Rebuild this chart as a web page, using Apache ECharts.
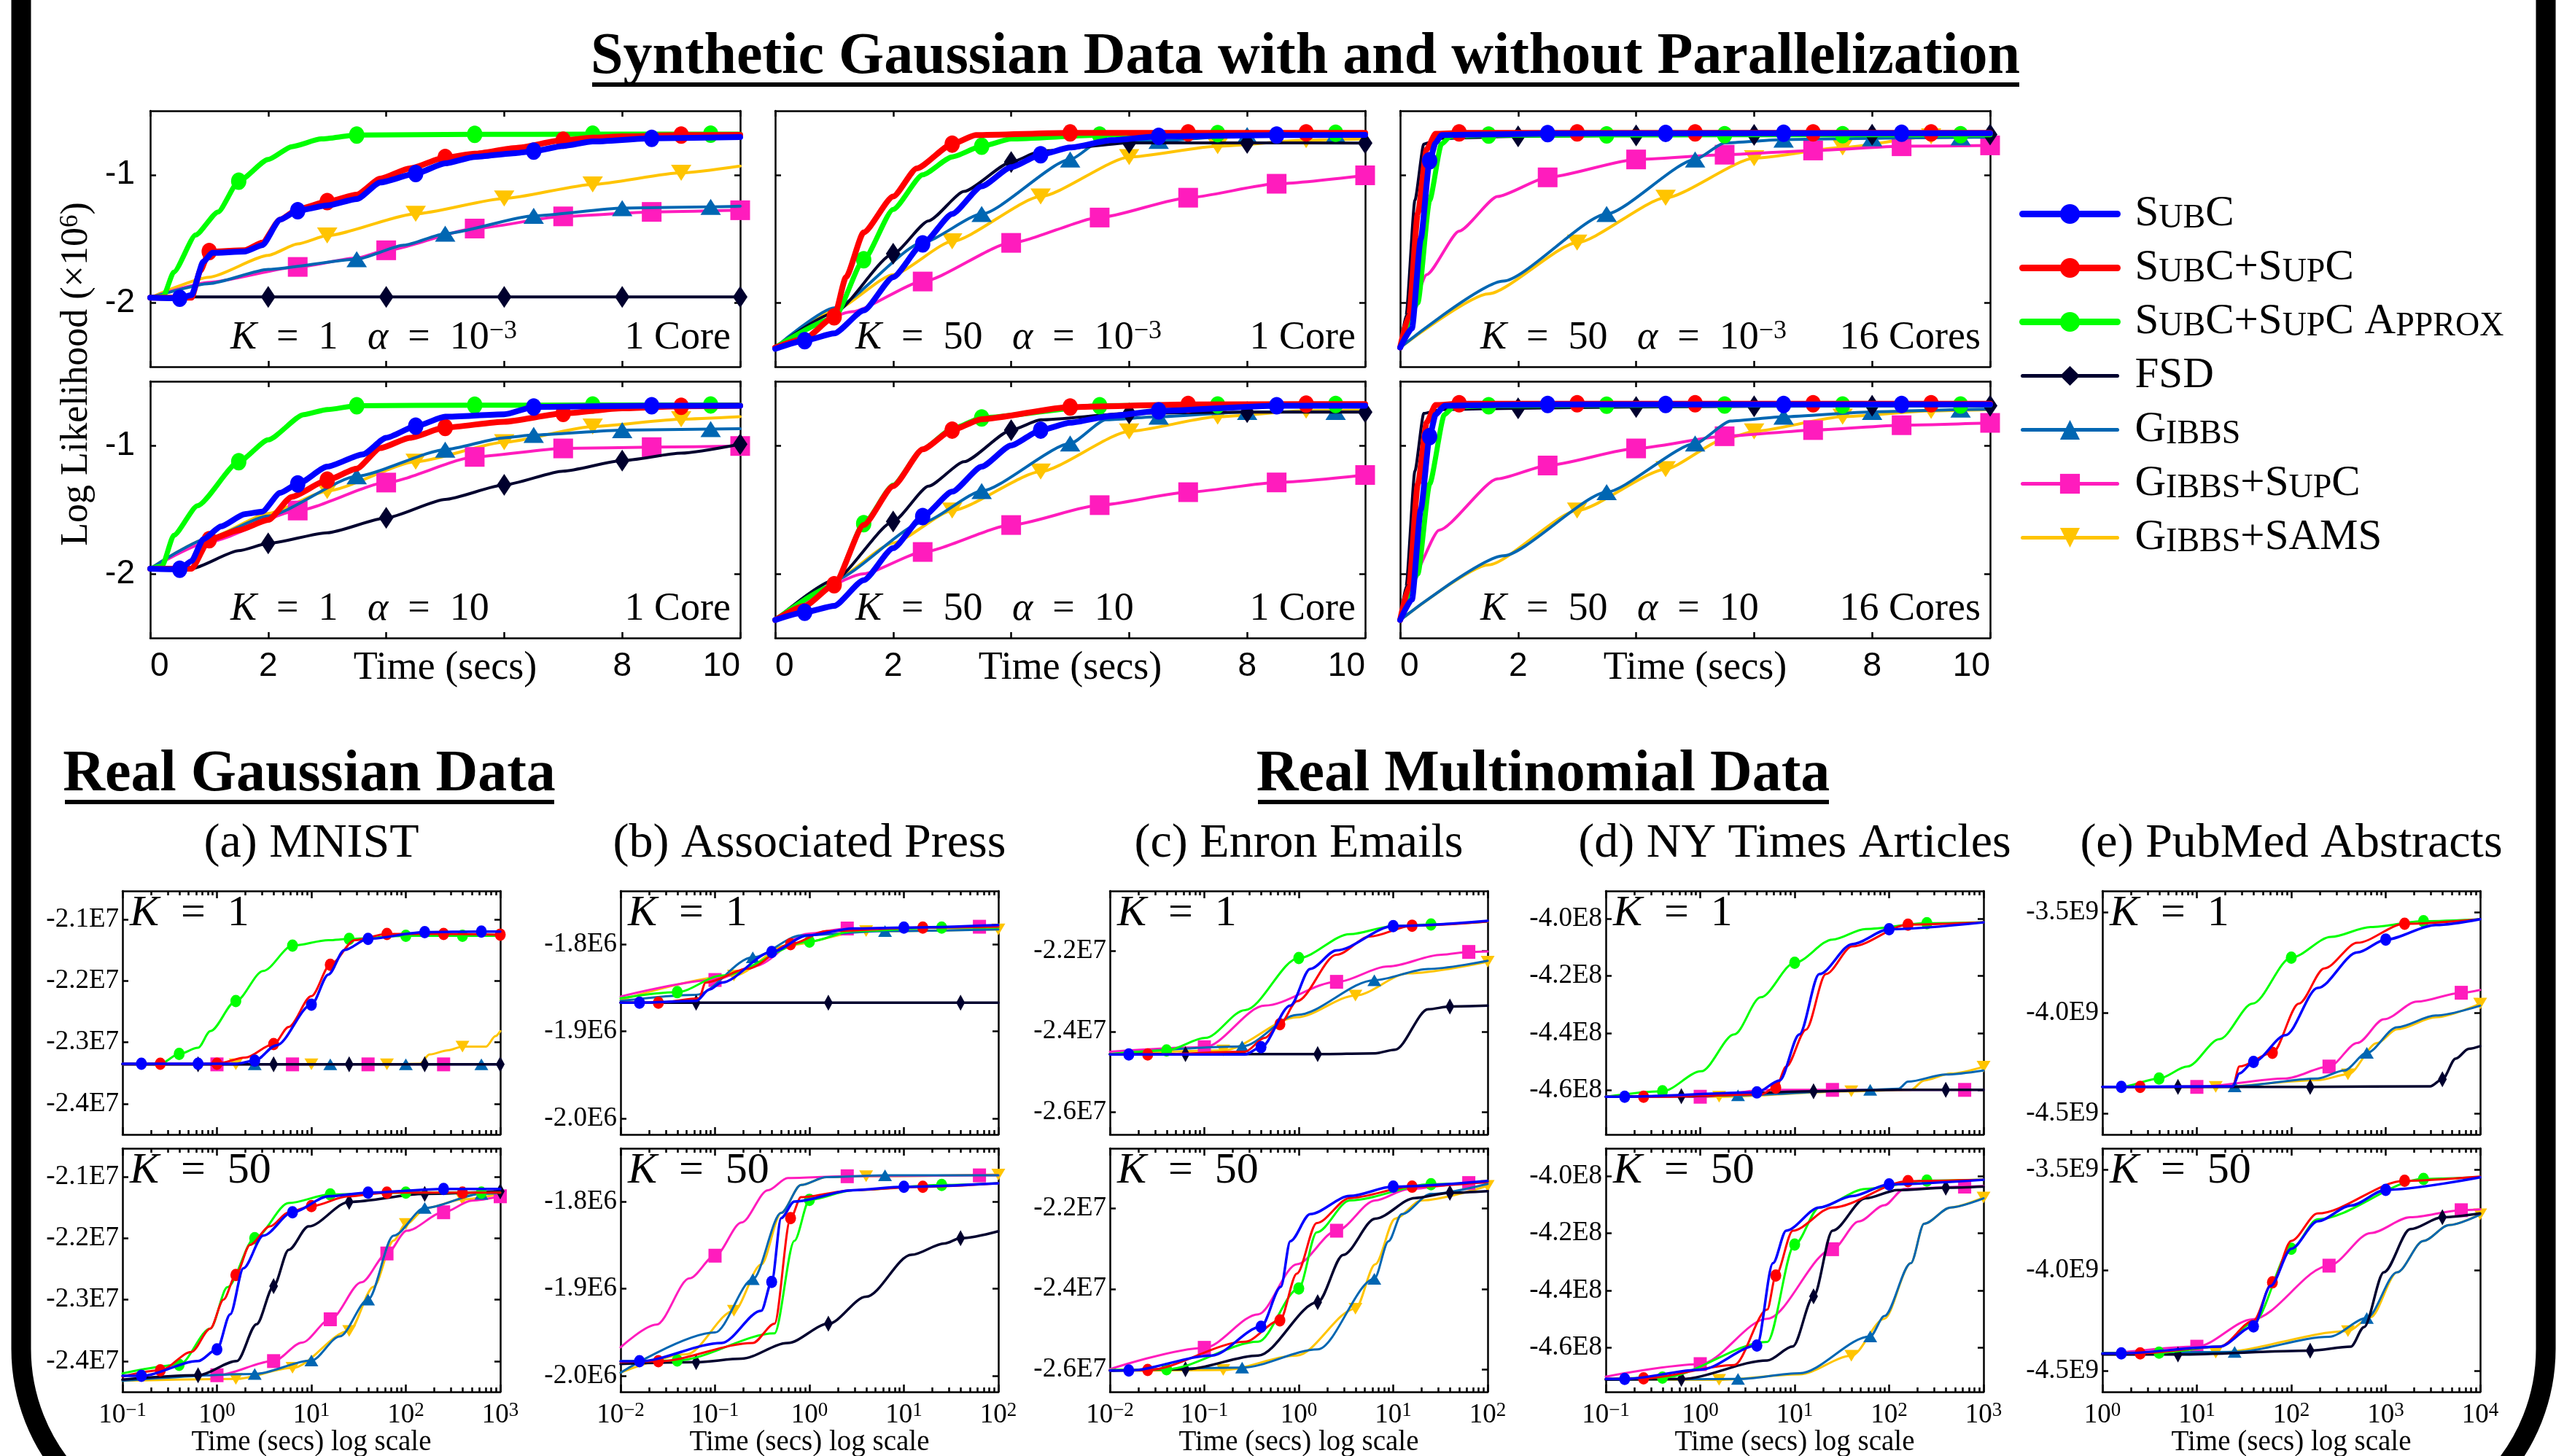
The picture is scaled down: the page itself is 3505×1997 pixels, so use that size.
<!DOCTYPE html>
<html>
<head>
<meta charset="UTF-8">
<title>Log likelihood vs. time</title>
<script src="https://cdn.jsdelivr.net/npm/echarts@6.0.0/dist/echarts.min.js"></script>
<style>
  html, body { margin: 0; padding: 0; background: #fff; }
  #main { width: 3505px; height: 1997px; }
</style>
</head>
<body>
<div id="main"></div>
<script>
var SERIF = "'Liberation Serif', 'Times New Roman', serif";
var SANS = "'Liberation Sans', Arial, sans-serif";

// methods, in legend order
var keys = ['subc', 'supc', 'approx', 'fsd', 'gibbs', 'gsupc', 'sams'];
var names = ['SubC', 'SubC+SupC', 'SubC+SupC Approx', 'FSD', 'Gibbs', 'Gibbs+SupC', 'Gibbs+SAMS'];

// ---------- synthetic data (top): x = seconds, y = log likelihood / 1e6 ----------
var synK1Lo = {
  subc: [[0,-1.96],[0.5,-1.965],[0.7,-1.94],[0.9,-1.68],[1.05,-1.61],[1.6,-1.6],[1.9,-1.55],[2.2,-1.35],[2.5,-1.28],[3,-1.24],[3.5,-1.19],[3.9,-1.06],[4.5,-0.99],[5,-0.91],[5.5,-0.86],[6.2,-0.83],[6.5,-0.815],[7,-0.775],[7.5,-0.74],[8.5,-0.715],[10,-0.705]],
  supc: [[0,-1.96],[0.7,-1.96],[0.85,-1.75],[1,-1.6],[1.6,-1.59],[1.9,-1.53],[2.2,-1.35],[2.5,-1.27],[3,-1.21],[3.5,-1.155],[3.9,-1.03],[4.4,-0.95],[5,-0.865],[5.5,-0.835],[6.2,-0.79],[7,-0.73],[7.5,-0.71],[8,-0.7],[9,-0.69],[10,-0.688]],
  approx: [[0,-1.96],[0.22,-1.95],[0.4,-1.76],[0.77,-1.47],[1.15,-1.29],[1.5,-1.05],[2,-0.88],[2.4,-0.78],[2.9,-0.72],[3.5,-0.69],[5.5,-0.684],[7.5,-0.683],[9.5,-0.682],[10,-0.682]],
  fsd: [[0,-1.955],[2,-1.955],[4,-1.955],[6,-1.955],[8,-1.955],[10,-1.955]],
  gibbs: [[0,-1.96],[1,-1.85],[2,-1.74],[3.5,-1.66],[4.3,-1.55],[5,-1.46],[6.5,-1.32],[8,-1.26],[9.5,-1.25],[10,-1.245]],
  gsupc: [[0,-1.96],[1,-1.84],[2.5,-1.72],[3.5,-1.65],[4,-1.59],[5.5,-1.42],[7,-1.325],[8.5,-1.29],[10,-1.277]],
  sams: [[0,-1.96],[1,-1.8],[2,-1.63],[2.5,-1.54],[3,-1.475],[4.5,-1.305],[6,-1.185],[7.5,-1.075],[9,-0.985],[10,-0.932]]
};
var synK1Hi = {
  subc: [[0,-1.96],[0.5,-1.965],[0.7,-1.9],[0.9,-1.73],[1.2,-1.63],[1.6,-1.535],[1.9,-1.515],[2.2,-1.37],[2.5,-1.3],[3,-1.165],[3.6,-1.07],[4,-0.94],[4.5,-0.85],[5,-0.776],[6,-0.757],[6.5,-0.7],[8.5,-0.69],[10,-0.69]],
  supc: [[0,-1.96],[0.7,-1.96],[1,-1.734],[1.5,-1.66],[2,-1.58],[2.4,-1.4],[3,-1.27],[3.5,-1.18],[3.9,-1.02],[4.4,-0.94],[5,-0.86],[6,-0.815],[7,-0.75],[8,-0.71],[9,-0.695],[10,-0.69]],
  approx: [[0,-1.96],[0.2,-1.94],[0.4,-1.7],[0.8,-1.47],[1.5,-1.127],[2,-0.956],[2.6,-0.76],[3,-0.72],[3.5,-0.69],[5.5,-0.686],[7.5,-0.685],[9.5,-0.684],[10,-0.684]],
  fsd: [[0,-1.96],[0.7,-1.96],[1.5,-1.82],[2,-1.763],[3,-1.68],[4,-1.564],[5,-1.42],[6,-1.307],[7,-1.2],[8,-1.118],[9,-1.06],[10,-0.99]],
  gibbs: [[0,-1.96],[1,-1.72],[2,-1.55],[3.5,-1.24],[5,-1.032],[6,-0.94],[6.5,-0.918],[8,-0.88],[9.5,-0.872],[10,-0.87]],
  gsupc: [[0,-1.96],[1,-1.75],[2.5,-1.507],[4,-1.289],[5.5,-1.089],[7,-1.023],[8.5,-1.013],[10,-1.004]],
  sams: [[0,-1.96],[1,-1.72],[2,-1.53],[3,-1.355],[4.5,-1.127],[6,-0.975],[7.5,-0.852],[9,-0.795],[10,-0.776]]
};
var synK50Lo = {
  subc: [[0,-2.36],[0.5,-2.296],[1,-2.24],[1.5,-2.06],[2,-1.8],[2.5,-1.54],[3,-1.306],[3.5,-1.09],[4,-0.94],[4.5,-0.843],[5,-0.787],[5.7,-0.73],[6.5,-0.7],[8.5,-0.69],[10,-0.688]],
  supc: [[0,-2.35],[0.5,-2.28],[1,-2.11],[1.2,-1.8],[1.5,-1.45],[2,-1.17],[2.4,-0.95],[3,-0.76],[3.4,-0.69],[5,-0.673],[7,-0.672],[9,-0.672],[10,-0.672]],
  approx: [[0,-2.35],[1,-2.12],[1.5,-1.664],[2,-1.27],[2.5,-1.0],[3,-0.86],[3.5,-0.777],[4,-0.72],[5.5,-0.69],[7.5,-0.678],[9.5,-0.675],[10,-0.675]],
  fsd: [[0,-2.35],[1,-2.08],[2,-1.617],[2.6,-1.36],[3.2,-1.13],[4,-0.9],[4.5,-0.815],[6,-0.75],[8,-0.75],[10,-0.752]],
  gibbs: [[0,-2.35],[1,-2.04],[2.5,-1.53],[3.5,-1.306],[5,-0.881],[5.5,-0.74],[6.5,-0.735],[8,-0.69],[9.5,-0.688],[10,-0.688]],
  gsupc: [[0,-2.35],[1.3,-2.07],[2.5,-1.834],[4,-1.532],[5.5,-1.334],[7,-1.179],[8.5,-1.07],[10,-1.004]],
  sams: [[0,-2.35],[1,-2.06],[2,-1.78],[3,-1.52],[4.5,-1.17],[6,-0.862],[7.5,-0.777],[9,-0.73],[10,-0.72]]
};
var synK50Hi = {
  subc: [[0,-2.36],[0.5,-2.3],[1,-2.25],[1.5,-2.05],[2,-1.8],[2.5,-1.554],[3,-1.36],[3.5,-1.165],[4,-1.0],[4.5,-0.88],[5,-0.823],[5.7,-0.77],[6.5,-0.73],[8.5,-0.69],[10,-0.69]],
  supc: [[0,-2.36],[0.5,-2.25],[1,-2.085],[1.5,-1.62],[2,-1.317],[2.5,-1.03],[3,-0.88],[3.5,-0.795],[5,-0.7],[7,-0.68],[9,-0.678],[10,-0.678]],
  approx: [[0,-2.36],[1,-2.09],[1.5,-1.61],[2,-1.31],[2.5,-1.03],[3,-0.87],[3.5,-0.785],[5.5,-0.69],[7.5,-0.685],[9.5,-0.68],[10,-0.68]],
  fsd: [[0,-2.36],[1,-2.05],[2,-1.592],[2.6,-1.317],[3.2,-1.127],[4,-0.88],[4.5,-0.8],[6,-0.75],[8,-0.74],[10,-0.74]],
  gibbs: [[0,-2.36],[1,-2.05],[2.5,-1.6],[3.5,-1.355],[5,-0.985],[5.6,-0.8],[6.5,-0.776],[8,-0.738],[9.5,-0.738],[10,-0.738]],
  gsupc: [[0,-2.36],[1.5,-2.0],[2.5,-1.83],[4,-1.62],[5.5,-1.465],[7,-1.364],[8.5,-1.288],[10,-1.23]],
  sams: [[0,-2.36],[1,-2.05],[2,-1.76],[3,-1.507],[4.5,-1.203],[6,-0.89],[7.5,-0.776],[9,-0.729],[10,-0.725]]
};
var par16Lo = {
  subc: [[0,-2.35],[0.2,-2.2],[0.35,-1.5],[0.5,-0.89],[0.6,-0.75],[0.7,-0.69],[2.5,-0.678],[4.5,-0.676],[6.5,-0.675],[8.5,-0.675],[10,-0.675]],
  supc: [[0,-2.35],[0.15,-2.1],[0.3,-1.3],[0.45,-0.8],[0.6,-0.68],[1,-0.672],[3,-0.672],[5,-0.672],[7,-0.672],[9,-0.672],[10,-0.672]],
  approx: [[0,-2.35],[0.3,-2.0],[0.5,-1.2],[0.7,-0.76],[0.85,-0.7],[1.5,-0.69],[3.5,-0.688],[5.5,-0.687],[7.5,-0.686],[9.5,-0.686],[10,-0.686]],
  fsd: [[0,-2.35],[0.1,-2.1],[0.25,-1.2],[0.4,-0.76],[0.7,-0.715],[2,-0.7],[4,-0.692],[6,-0.688],[8,-0.686],[10,-0.685]],
  gibbs: [[0,-2.35],[1.75,-1.83],[3.5,-1.306],[5,-0.88],[5.5,-0.75],[6.5,-0.725],[8,-0.715],[9.5,-0.708],[10,-0.706]],
  gsupc: [[0,-2.35],[0.16,-2.08],[0.45,-1.78],[1,-1.44],[1.65,-1.17],[2.5,-1.02],[4,-0.88],[5.5,-0.843],[7,-0.81],[8.5,-0.777],[10,-0.77]],
  sams: [[0,-2.35],[1.5,-1.93],[3,-1.53],[4.5,-1.18],[6,-0.87],[7.5,-0.787],[9,-0.7],[10,-0.695]]
};
var par16Hi = {
  subc: [[0,-2.36],[0.2,-2.2],[0.35,-1.5],[0.5,-0.93],[0.6,-0.76],[0.75,-0.69],[2.5,-0.68],[4.5,-0.68],[6.5,-0.68],[8.5,-0.68],[10,-0.68]],
  supc: [[0,-2.36],[0.15,-2.1],[0.3,-1.3],[0.45,-0.82],[0.6,-0.685],[1,-0.675],[3,-0.675],[5,-0.675],[7,-0.675],[9,-0.675],[10,-0.675]],
  approx: [[0,-2.36],[0.3,-2.0],[0.5,-1.3],[0.75,-0.76],[0.9,-0.7],[1.5,-0.69],[3.5,-0.686],[5.5,-0.685],[7.5,-0.685],[9.5,-0.685],[10,-0.685]],
  fsd: [[0,-2.36],[0.1,-2.1],[0.25,-1.2],[0.4,-0.75],[0.7,-0.72],[2,-0.71],[4,-0.7],[6,-0.695],[8,-0.69],[10,-0.69]],
  gibbs: [[0,-2.36],[1.75,-1.86],[3.5,-1.364],[5,-0.985],[5.6,-0.81],[6.5,-0.776],[8,-0.738],[9.5,-0.72],[10,-0.718]],
  gsupc: [[0,-2.36],[0.16,-2.076],[0.66,-1.66],[1.65,-1.26],[2.5,-1.156],[4,-1.023],[5.5,-0.928],[7,-0.88],[8.5,-0.842],[10,-0.824]],
  sams: [[0,-2.36],[1.5,-1.93],[3,-1.507],[4.5,-1.184],[5.5,-0.95],[6,-0.89],[7.5,-0.776],[9,-0.73],[10,-0.72]]
};

// ---------- real data (bottom): x = log10(seconds), y = log likelihood / 10^exp ----------
var mnistK1 = {
  subc: [[-1,-2.335],[-0.8,-2.335],[-0.2,-2.335],[0.2,-2.335],[0.4,-2.33],[0.63,-2.305],[1.0,-2.239],[1.18,-2.19],[1.35,-2.15],[1.6,-2.132],[2.2,-2.121],[2.8,-2.12],[3,-2.12]],
  supc: [[-1,-2.335],[-0.6,-2.335],[0,-2.335],[0.3,-2.325],[0.6,-2.303],[0.76,-2.275],[1.0,-2.225],[1.2,-2.174],[1.46,-2.134],[1.8,-2.124],[2.4,-2.124],[3,-2.125]],
  approx: [[-1,-2.335],[-0.6,-2.335],[-0.4,-2.319],[-0.2,-2.309],[-0.07,-2.282],[0.2,-2.233],[0.49,-2.184],[0.8,-2.143],[1.18,-2.134],[1.4,-2.132],[2.0,-2.127],[2.6,-2.127],[3,-2.127]],
  fsd: [[-1,-2.336],[-0.2,-2.336],[0.6,-2.336],[1.4,-2.336],[2.2,-2.336],[3,-2.336]],
  gibbs: [[-1,-2.336],[0.4,-2.336],[1.2,-2.336],[2.0,-2.336],[2.8,-2.336],[3,-2.336]],
  gsupc: [[-1,-2.336],[0,-2.336],[0.8,-2.336],[1.6,-2.336],[2.4,-2.336],[3,-2.336]],
  sams: [[-1,-2.336],[0.2,-2.336],[1.0,-2.336],[1.8,-2.336],[2.15,-2.335],[2.25,-2.32],[2.45,-2.313],[2.6,-2.307],[2.85,-2.307],[2.95,-2.29],[3,-2.282]]
};
var mnistK50 = {
  subc: [[-1,-2.424],[-0.8,-2.424],[-0.2,-2.4],[0,-2.381],[0.14,-2.324],[0.28,-2.249],[0.49,-2.196],[0.8,-2.158],[1.18,-2.132],[1.6,-2.126],[2.4,-2.12],[3,-2.12]],
  supc: [[-1,-2.425],[-0.6,-2.415],[-0.27,-2.385],[-0.07,-2.347],[0.07,-2.3],[0.2,-2.26],[0.35,-2.211],[0.56,-2.181],[0.76,-2.158],[1.0,-2.148],[1.39,-2.132],[1.8,-2.126],[2.6,-2.126],[3,-2.126]],
  approx: [[-1,-2.42],[-0.4,-2.406],[-0.07,-2.347],[0.11,-2.28],[0.4,-2.2],[0.76,-2.143],[1.2,-2.129],[2.0,-2.126],[2.8,-2.126],[3,-2.126]],
  fsd: [[-1,-2.43],[-0.2,-2.423],[0.21,-2.4],[0.42,-2.34],[0.6,-2.278],[0.76,-2.219],[0.97,-2.181],[1.4,-2.141],[2.2,-2.128],[3,-2.124]],
  gibbs: [[-1,-2.432],[0.4,-2.421],[1.0,-2.399],[1.3,-2.36],[1.6,-2.3],[1.87,-2.196],[2.2,-2.151],[2.8,-2.128],[3,-2.127]],
  gsupc: [[-1,-2.43],[0,-2.423],[0.6,-2.4],[0.9,-2.37],[1.2,-2.332],[1.53,-2.272],[1.8,-2.225],[2.01,-2.188],[2.4,-2.158],[2.7,-2.139],[3,-2.132]],
  sams: [[-1,-2.432],[0.2,-2.429],[0.8,-2.411],[1.4,-2.351],[1.66,-2.279],[1.87,-2.204],[2.0,-2.177],[2.22,-2.151],[2.6,-2.137],[3,-2.128]]
};
var apK1 = {
  subc: [[-2,-1.867],[-1.8,-1.867],[-1.2,-1.865],[-1.06,-1.852],[-0.93,-1.844],[-0.4,-1.809],[-0.02,-1.79],[0.46,-1.782],[1.0,-1.781],[2,-1.778]],
  supc: [[-2,-1.867],[-1.6,-1.867],[-1.17,-1.862],[-1.1,-1.844],[-0.65,-1.828],[-0.2,-1.8],[0.18,-1.785],[1.2,-1.781],[2,-1.78]],
  approx: [[-2,-1.862],[-1.4,-1.855],[-0.93,-1.836],[0,-1.797],[0.46,-1.785],[1.4,-1.781],[2,-1.781]],
  fsd: [[-2,-1.867],[-1.2,-1.867],[0.2,-1.867],[1.6,-1.867],[2,-1.867]],
  gibbs: [[-2,-1.865],[-1.2,-1.858],[-0.6,-1.815],[-0.09,-1.79],[0.8,-1.785],[2,-1.783]],
  gsupc: [[-2,-1.86],[-1.0,-1.841],[-0.58,-1.825],[-0.02,-1.788],[0.4,-1.782],[1.8,-1.78],[2,-1.78]],
  sams: [[-2,-1.864],[-0.8,-1.836],[-0.23,-1.801],[0.6,-1.785],[2,-1.783]]
};
var apK50 = {
  subc: [[-2,-1.983],[-1.8,-1.983],[-0.93,-1.962],[-0.51,-1.925],[-0.4,-1.892],[-0.3,-1.819],[-0.16,-1.8],[0.46,-1.787],[1.0,-1.783],[2,-1.779]],
  supc: [[-2,-1.984],[-1.6,-1.983],[-0.6,-1.962],[-0.37,-1.94],[-0.2,-1.819],[-0.09,-1.795],[0.46,-1.787],[1.2,-1.783],[2,-1.779]],
  approx: [[-2,-1.983],[-1.4,-1.982],[-0.37,-1.951],[-0.16,-1.845],[0,-1.798],[0.46,-1.787],[1.4,-1.781],[2,-1.779]],
  fsd: [[-2,-1.986],[-1.2,-1.984],[-0.72,-1.98],[-0.23,-1.962],[0.2,-1.94],[0.6,-1.909],[1.08,-1.861],[1.43,-1.848],[1.6,-1.842],[2,-1.834]],
  gibbs: [[-2,-1.996],[-1.0,-1.95],[-0.6,-1.889],[-0.3,-1.813],[-0.09,-1.781],[0.18,-1.772],[0.8,-1.77],[2,-1.77]],
  gsupc: [[-2,-1.967],[-1.62,-1.941],[-1.27,-1.888],[-1.0,-1.862],[-0.72,-1.824],[-0.44,-1.787],[-0.23,-1.773],[0.4,-1.771],[1.8,-1.77],[2,-1.77]],
  sams: [[-2,-1.996],[-1.3,-1.975],[-0.8,-1.925],[-0.51,-1.872],[-0.3,-1.813],[-0.09,-1.781],[0.18,-1.772],[0.6,-1.771],[2,-1.769]]
};
var enronK1 = {
  subc: [[-2,-2.457],[-1.8,-2.457],[-0.57,-2.457],[-0.4,-2.439],[-0.09,-2.336],[0.12,-2.245],[0.4,-2.199],[1.0,-2.139],[2,-2.126]],
  supc: [[-2,-2.457],[-1.6,-2.457],[-0.57,-2.45],[-0.36,-2.416],[-0.2,-2.382],[-0.02,-2.325],[0.4,-2.21],[0.75,-2.165],[1.2,-2.138],[2,-2.128]],
  approx: [[-2,-2.456],[-1.4,-2.447],[-0.99,-2.416],[-0.57,-2.347],[0,-2.218],[0.54,-2.159],[1.0,-2.139],[1.4,-2.135],[2,-2.128]],
  fsd: [[-2,-2.456],[-1.2,-2.456],[0.2,-2.456],[0.81,-2.454],[1.02,-2.445],[1.37,-2.345],[1.6,-2.338],[2,-2.336]],
  gibbs: [[-2,-2.456],[-0.6,-2.437],[-0.02,-2.359],[0.8,-2.273],[1.37,-2.245],[2,-2.225]],
  gsupc: [[-2,-2.45],[-1.0,-2.439],[-0.36,-2.336],[0.4,-2.277],[0.95,-2.239],[1.51,-2.21],[1.8,-2.203],[2,-2.202]],
  sams: [[-2,-2.456],[-0.8,-2.447],[-0.02,-2.365],[0.6,-2.311],[1.16,-2.256],[2,-2.227]]
};
var enronK50 = {
  subc: [[-2,-2.602],[-1.8,-2.602],[-0.92,-2.565],[-0.4,-2.494],[-0.19,-2.395],[-0.09,-2.282],[0.12,-2.215],[0.54,-2.17],[1.0,-2.147],[2,-2.133]],
  supc: [[-2,-2.602],[-1.6,-2.601],[-0.57,-2.531],[-0.2,-2.478],[-0.02,-2.362],[0.19,-2.237],[0.54,-2.175],[1.2,-2.147],[2,-2.135]],
  approx: [[-2,-2.601],[-1.4,-2.599],[-0.43,-2.531],[0,-2.399],[0.19,-2.26],[0.54,-2.181],[1.4,-2.141],[2,-2.135]],
  fsd: [[-2,-2.602],[-1.2,-2.599],[-0.43,-2.565],[0.2,-2.433],[0.47,-2.316],[0.81,-2.226],[1.23,-2.175],[1.6,-2.162],[2,-2.158]],
  gibbs: [[-2,-2.603],[-0.6,-2.595],[0.2,-2.55],[0.8,-2.375],[0.95,-2.282],[1.09,-2.215],[1.4,-2.165],[2,-2.14]],
  gsupc: [[-2,-2.599],[-1.0,-2.546],[-0.43,-2.463],[-0.02,-2.339],[0.4,-2.256],[0.81,-2.181],[1.16,-2.153],[1.8,-2.138],[2,-2.137]],
  sams: [[-2,-2.603],[-0.8,-2.601],[-0.02,-2.565],[0.6,-2.449],[0.81,-2.339],[1.02,-2.226],[1.3,-2.181],[2,-2.145]]
};
var nytK1 = {
  subc: [[-1,-4.623],[-0.8,-4.623],[0.6,-4.608],[0.84,-4.566],[1.05,-4.405],[1.26,-4.194],[1.61,-4.089],[2.0,-4.037],[3,-4.013]],
  supc: [[-1,-4.623],[-0.6,-4.623],[0.64,-4.615],[0.8,-4.591],[0.91,-4.518],[1.12,-4.388],[1.33,-4.194],[1.61,-4.097],[2.2,-4.021],[3,-4.013]],
  approx: [[-1,-4.623],[-0.4,-4.604],[0.01,-4.534],[0.36,-4.405],[0.64,-4.275],[1.0,-4.154],[1.4,-4.073],[1.75,-4.036],[2.4,-4.016],[3,-4.013]],
  fsd: [[-1,-4.623],[-0.2,-4.621],[1.2,-4.604],[2.09,-4.599],[2.6,-4.599],[3,-4.599]],
  gibbs: [[-1,-4.623],[0.4,-4.618],[1.8,-4.599],[2.1,-4.595],[2.2,-4.57],[2.6,-4.545],[3,-4.531]],
  gsupc: [[-1,-4.623],[0,-4.623],[0.71,-4.599],[1.4,-4.599],[2.8,-4.599],[3,-4.599]],
  sams: [[-1,-4.623],[0.2,-4.623],[1.6,-4.604],[2.23,-4.599],[2.37,-4.566],[2.65,-4.542],[3,-4.518]]
};
var nytK50 = {
  subc: [[-1,-4.71],[-0.8,-4.71],[0.01,-4.677],[0.6,-4.593],[0.77,-4.305],[0.91,-4.191],[1.26,-4.11],[1.61,-4.07],[2.0,-4.029],[3,-4.013]],
  supc: [[-1,-4.71],[-0.6,-4.708],[0.36,-4.661],[0.71,-4.467],[0.8,-4.348],[0.98,-4.191],[1.4,-4.11],[2.2,-4.018],[3,-4.013]],
  approx: [[-1,-4.71],[-0.4,-4.705],[0.71,-4.58],[1.0,-4.24],[1.26,-4.11],[1.75,-4.045],[2.4,-4.016],[3,-4.013]],
  fsd: [[-1,-4.712],[-0.2,-4.71],[0.71,-4.645],[0.98,-4.596],[1.2,-4.421],[1.4,-4.191],[1.75,-4.078],[2.09,-4.049],[2.6,-4.041],[3,-4.037]],
  gibbs: [[-1,-4.713],[0.4,-4.71],[1.05,-4.69],[1.8,-4.561],[1.95,-4.49],[2.23,-4.305],[2.37,-4.167],[2.65,-4.11],[3,-4.078]],
  gsupc: [[-1,-4.702],[0,-4.658],[0.71,-4.499],[1.4,-4.256],[1.68,-4.159],[1.95,-4.102],[2.16,-4.045],[2.8,-4.037],[3,-4.035]],
  sams: [[-1,-4.713],[0.2,-4.713],[1.05,-4.694],[1.6,-4.629],[1.95,-4.499],[2.23,-4.305],[2.37,-4.167],[2.65,-4.11],[3,-4.075]]
};
var pubK1 = {
  subc: [[0,-4.367],[0.2,-4.367],[1.38,-4.364],[1.45,-4.3],[1.6,-4.243],[1.94,-4.11],[2.28,-3.876],[2.7,-3.7],[3.0,-3.636],[3.53,-3.564],[4,-3.535]],
  supc: [[0,-4.367],[0.4,-4.367],[1.38,-4.364],[1.45,-4.266],[1.8,-4.198],[2.08,-3.954],[2.35,-3.779],[2.7,-3.652],[3.2,-3.558],[4,-3.535]],
  approx: [[0,-4.367],[0.2,-4.367],[0.6,-4.325],[0.9,-4.266],[1.24,-4.13],[1.59,-3.954],[2.0,-3.726],[2.42,-3.623],[2.84,-3.574],[3.4,-3.545],[4,-3.535]],
  fsd: [[0,-4.367],[0.8,-4.367],[2.2,-4.367],[3.47,-4.364],[3.6,-4.329],[3.74,-4.227],[3.88,-4.178],[4,-4.165]],
  gibbs: [[0,-4.367],[1.4,-4.364],[2.28,-4.325],[2.56,-4.286],[2.8,-4.198],[3.12,-4.071],[3.53,-4.013],[4,-3.964]],
  gsupc: [[0,-4.367],[1.0,-4.367],[1.94,-4.325],[2.4,-4.266],[2.7,-4.149],[2.98,-4.032],[3.33,-3.944],[3.8,-3.9],[4,-3.886]],
  sams: [[0,-4.367],[1.2,-4.367],[2.28,-4.334],[2.6,-4.305],[2.91,-4.149],[3.12,-4.081],[3.53,-4.022],[4,-3.954]]
};
var pubK50 = {
  subc: [[0,-4.412],[0.2,-4.412],[1.24,-4.379],[1.6,-4.278],[1.78,-4.078],[2.0,-3.893],[2.28,-3.757],[2.63,-3.679],[3.0,-3.601],[4,-3.539]],
  supc: [[0,-4.412],[0.4,-4.412],[1.24,-4.379],[1.6,-4.25],[1.8,-4.06],[2.0,-3.854],[2.28,-3.718],[3.2,-3.556],[4,-3.535]],
  approx: [[0,-4.41],[0.6,-4.409],[1.24,-4.379],[1.6,-4.26],[2.0,-3.893],[2.28,-3.747],[3.4,-3.547],[4,-3.537]],
  fsd: [[0,-4.418],[0.8,-4.418],[2.2,-4.399],[2.63,-4.379],[2.77,-4.282],[2.98,-4.01],[3.26,-3.796],[3.6,-3.737],[4,-3.718]],
  gibbs: [[0,-4.41],[1.4,-4.405],[2.4,-4.33],[2.8,-4.237],[3.12,-4.01],[3.4,-3.854],[3.67,-3.776],[4,-3.724]],
  gsupc: [[0,-4.418],[1.0,-4.379],[1.59,-4.243],[2.4,-3.977],[2.84,-3.815],[3.26,-3.737],[3.8,-3.702],[4,-3.698]],
  sams: [[0,-4.41],[1.2,-4.409],[2.6,-4.302],[2.84,-4.233],[3.12,-4.01],[3.4,-3.854],[3.67,-3.776],[4,-3.722]]
};

// tick values
var topXTicks = [0, 2, 4, 6, 8, 10];
var topXLabels = [0, 2, 8, 10];
var topYTicks = [-2, -1];
var bottomSets = [
  { col: 0, title: '(a) MNIST', xmin: -1, ymin: -2.45, ymax: -2.054, yTicks: [-2.4, -2.3, -2.2, -2.1], exp: 7, k1: mnistK1, k50: mnistK50 },
  { col: 1, title: '(b) Associated Press', xmin: -2, ymin: -2.018, ymax: -1.739, yTicks: [-2.0, -1.9, -1.8], exp: 6, k1: apK1, k50: apK50 },
  { col: 2, title: '(c) Enron Emails', xmin: -2, ymin: -2.655, ymax: -2.052, yTicks: [-2.6, -2.4, -2.2], exp: 7, k1: enronK1, k50: enronK50 },
  { col: 3, title: '(d) NY Times Articles', xmin: -1, ymin: -4.755, ymax: -3.903, yTicks: [-4.6, -4.4, -4.2, -4.0], exp: 8, k1: nytK1, k50: nytK50 },
  { col: 4, title: '(e) PubMed Abstracts', xmin: 0, ymin: -4.603, ymax: -3.395, yTicks: [-4.5, -4.0, -3.5], exp: 9, k1: pubK1, k50: pubK50 }
];

// ---------- styling ----------
var colors = ['#0000ff', '#ff0000', '#00ff00', '#00002e', '#0066b2', '#ff1cbd', '#ffc400'];
var symbols = ['circle', 'circle', 'circle', 'diamond', 'triangle', 'rect', 'triangle'];
var rotations = [0, 0, 0, 0, 0, 0, 180];
var topSizes = [[21, 24], [21, 24], [21, 24], [20, 30], [28, 22], [27, 27], [28, 22]];
var botSizes = [[15, 17], [15, 17], [15, 17], [12, 22], [19, 16], [18, 19], [19, 16]];
var topWidths = [8, 8, 7, 4, 4, 4, 4];
var botWidths = [3.5, 3, 3, 3.5, 3, 3, 3];
var legendWidths = [9, 9, 9, 5, 5, 5, 5];
// where markers sit along each curve
var topMarkStart = [0.5, 1, 1.5, 2, 3.5, 2.5, 3];
var topMarkStep = [2, 2, 2, 2, 1.5, 1.5, 1.5];
var botMarkOffset = [0.2, 0.4, 0.6, 0.8, 1.4, 1.0, 1.2];
var botMarkStep = [1.4, 1.4, 1.4, 1.4, 1.4, 1.4, 1.4];
var mnistMarkStep = [[0.6, 0.6, 0.6, 0.8, 0.8, 0.8, 0.8], [0.8, 0.8, 0.8, 0.8, 0.6, 0.6, 0.6]];

// layout
var topCols = [206, 1063, 1920], topW = 809;
var topRows = [[152, 351], [523, 352]];
var botCols = [168, 851, 1522, 2202, 2883], botW = 518;
var botRows = [[1222, 334], [1575, 334]];

function onSchedule(x, start, step, end) {
  for (var k = 0; start + k * step <= end + 1e-6; k++) {
    if (Math.abs(x - (start + k * step)) < 0.03) return true;
  }
  return false;
}

var grids = [], xAxes = [], yAxes = [], series = [], graphics = [];

function frameLine() {
  return { show: true, onZero: false, lineStyle: { color: '#000', width: 2.5 } };
}
function ticks(vals, len) {
  return { show: true, inside: true, length: len, customValues: vals, lineStyle: { color: '#000', width: 2.5 } };
}

function addSeries(data, gi, xi, yi, isTop, start, steps, end) {
  for (var i = keys.length - 1; i >= 0; i--) {
    var pts = data[keys[i]];
    var st = isTop ? topMarkStart[i] : start + botMarkOffset[i];
    var sp = steps[i];
    var items = pts.map(function (p) {
      return onSchedule(p[0], st, sp, end) ? p : { value: p, symbol: 'none' };
    });
    series.push({
      type: 'line', name: names[i], xAxisIndex: xi, yAxisIndex: yi, data: items,
      smooth: isTop ? 0.2 : 0.3, smoothMonotone: 'x', showAllSymbol: true,
      symbol: symbols[i], symbolSize: isTop ? topSizes[i] : botSizes[i], symbolRotate: rotations[i],
      lineStyle: { color: colors[i], width: isTop ? topWidths[i] : botWidths[i], cap: 'round', join: 'round' },
      itemStyle: { color: colors[i], opacity: 1 },
      silent: true, z: 2 + (keys.length - i) * 0.01
    });
  }
}

var topRich = {
  i: { fontFamily: SERIF, fontSize: 54, fontStyle: 'italic', lineHeight: 54, fill: '#000' },
  t: { fontFamily: SERIF, fontSize: 54, lineHeight: 54, fill: '#000' },
  s: { fontFamily: SERIF, fontSize: 36, lineHeight: 30, verticalAlign: 'top', fill: '#000' }
};
var botRich = {
  i: { fontFamily: SERIF, fontSize: 60, fontStyle: 'italic', lineHeight: 60, fill: '#000' },
  t: { fontFamily: SERIF, fontSize: 60, lineHeight: 60, fill: '#000' }
};

// ---------- top row: synthetic ----------
var topPanels = [
  { col: 0, row: 0, data: synK1Lo, k: '1', low: true, cores: '1 Core' },
  { col: 0, row: 1, data: synK1Hi, k: '1', low: false, cores: '1 Core' },
  { col: 1, row: 0, data: synK50Lo, k: '50', low: true, cores: '1 Core' },
  { col: 1, row: 1, data: synK50Hi, k: '50', low: false, cores: '1 Core' },
  { col: 2, row: 0, data: par16Lo, k: '50', low: true, cores: '16 Cores' },
  { col: 2, row: 1, data: par16Hi, k: '50', low: false, cores: '16 Cores' }
];

topPanels.forEach(function (p) {
  var gi = grids.length;
  var left = topCols[p.col], top = topRows[p.row][0], h = topRows[p.row][1];
  grids.push({ left: left, top: top, width: topW, height: h, outerBoundsMode: 'none' });
  var lower = p.row === 1;
  var xi = xAxes.length;
  xAxes.push({
    type: 'value', gridIndex: gi, position: 'bottom', min: 0, max: 10,
    axisLine: frameLine(), axisTick: ticks(topXTicks, 8), splitLine: { show: false },
    axisLabel: lower ? {
      show: true, customValues: topXLabels, margin: 16, fontFamily: SANS, fontSize: 46, lineHeight: 46,
      color: '#000', alignMinLabel: 'left', alignMaxLabel: 'right'
    } : { show: false },
    name: lower ? 'Time (secs)' : '', nameLocation: 'middle', nameGap: 42, nameMoveOverlap: false,
    nameTextStyle: { fontFamily: SERIF, fontSize: 54, lineHeight: 54, color: '#000', verticalAlign: 'middle' }
  });
  xAxes.push({
    type: 'value', gridIndex: gi, position: 'top', min: 0, max: 10,
    axisLine: frameLine(), axisTick: ticks(topXTicks, 8), axisLabel: { show: false }, splitLine: { show: false }
  });
  var yi = yAxes.length;
  yAxes.push({
    type: 'value', gridIndex: gi, position: 'left', min: -2.5, max: -0.5,
    axisLine: frameLine(), axisTick: ticks(topYTicks, 8), splitLine: { show: false },
    axisLabel: p.col === 0 ? {
      show: true, customValues: topYTicks, margin: 21, fontFamily: SANS, fontSize: 46, color: '#000',
      formatter: function (v) { return String(v); }
    } : { show: false }
  });
  yAxes.push({
    type: 'value', gridIndex: gi, position: 'right', min: -2.5, max: -0.5,
    axisLine: frameLine(), axisTick: ticks(topYTicks, 8), axisLabel: { show: false }, splitLine: { show: false }
  });
  addSeries(p.data, gi, xi, yi, true, 0, topMarkStep, 10);

  var cy = top + h - 39;
  graphics.push({
    type: 'text', x: left + 110, y: cy, silent: true, z: 50,
    style: {
      text: '{i|K}{t|  =  ' + p.k + '   }{i|α}{t|  =  10}' + (p.low ? '{s|−3}' : ''),
      rich: topRich, align: 'left', verticalAlign: 'middle'
    }
  });
  graphics.push({
    type: 'text', x: left + topW - 13, y: cy, silent: true, z: 50,
    style: { text: p.cores, fontFamily: SERIF, fontSize: 54, fill: '#000', align: 'right', verticalAlign: 'middle' }
  });
});

// ---------- bottom row: real data ----------
bottomSets.forEach(function (b) {
  var majors = [], minors = [];
  for (var d = b.xmin; d <= b.xmin + 4; d++) majors.push(d);
  for (var d2 = b.xmin; d2 < b.xmin + 4; d2++) {
    for (var m = 2; m <= 9; m++) minors.push(d2 + Math.log10(m));
  }
  var left = botCols[b.col];
  [0, 1].forEach(function (r) {
    var gi = grids.length;
    var top = botRows[r][0], h = botRows[r][1];
    grids.push({ left: left, top: top, width: botW, height: h, outerBoundsMode: 'none' });
    var lower = r === 1;
    var xi = xAxes.length;
    xAxes.push({
      type: 'value', gridIndex: gi, position: 'bottom', min: b.xmin, max: b.xmin + 4,
      axisLine: frameLine(), axisTick: ticks(majors, 10), splitLine: { show: false },
      axisLabel: lower ? {
        show: true, customValues: majors, margin: 12,
        formatter: function (v) {
          var e = Math.round(v);
          return '{b|10}{s|' + (e < 0 ? '−' + (-e) : e) + '}';
        },
        rich: {
          b: { fontFamily: SERIF, fontSize: 37, lineHeight: 40, color: '#000' },
          s: { fontFamily: SERIF, fontSize: 27, lineHeight: 20, verticalAlign: 'top', color: '#000' }
        }
      } : { show: false },
      name: lower ? 'Time (secs) log scale' : '', nameLocation: 'middle', nameGap: 70, nameMoveOverlap: false,
      nameTextStyle: { fontFamily: SERIF, fontSize: 39, lineHeight: 39, color: '#000', verticalAlign: 'middle' }
    });
    xAxes.push({
      type: 'value', gridIndex: gi, position: 'bottom', min: b.xmin, max: b.xmin + 4,
      axisLine: { show: false, onZero: false }, axisTick: ticks(minors, 6), axisLabel: { show: false }, splitLine: { show: false }
    });
    xAxes.push({
      type: 'value', gridIndex: gi, position: 'top', min: b.xmin, max: b.xmin + 4,
      axisLine: frameLine(), axisTick: ticks(majors, 10), axisLabel: { show: false }, splitLine: { show: false }
    });
    xAxes.push({
      type: 'value', gridIndex: gi, position: 'top', min: b.xmin, max: b.xmin + 4,
      axisLine: { show: false, onZero: false }, axisTick: ticks(minors, 6), axisLabel: { show: false }, splitLine: { show: false }
    });
    var yi = yAxes.length;
    yAxes.push({
      type: 'value', gridIndex: gi, position: 'left', min: b.ymin, max: b.ymax,
      axisLine: frameLine(), axisTick: ticks(b.yTicks, 8), splitLine: { show: false },
      axisLabel: {
        show: true, customValues: b.yTicks, margin: 5, fontFamily: SERIF, fontSize: 37, color: '#000',
        formatter: function (v) { return v.toFixed(1) + 'E' + b.exp; }
      }
    });
    yAxes.push({
      type: 'value', gridIndex: gi, position: 'right', min: b.ymin, max: b.ymax,
      axisLine: frameLine(), axisTick: ticks(b.yTicks, 8), axisLabel: { show: false }, splitLine: { show: false }
    });
    var steps = b.col === 0 ? mnistMarkStep[r] : botMarkStep;
    addSeries(lower ? b.k50 : b.k1, gi, xi, yi, false, b.xmin, steps, b.xmin + 4);

    graphics.push({
      type: 'text', x: left + 10, y: top + 31, silent: true, z: 50,
      style: { text: '{i|K}{t|  =  ' + (lower ? '50' : '1') + '}', rich: botRich, align: 'left', verticalAlign: 'middle' }
    });
  });
  graphics.push({
    type: 'text', x: left + botW / 2, y: 1158, silent: true,
    style: { text: b.title, fontFamily: SERIF, fontSize: 66, fill: '#000', align: 'center', verticalAlign: 'middle' }
  });
});

// ---------- titles and frame ----------
graphics.push({
  type: 'rect', silent: true, z: 0,
  shape: { x: 29, y: -50, width: 3462, height: 2160, r: [0, 0, 260, 260] },
  style: { fill: 'none', stroke: '#000', lineWidth: 27 }
});
function heading(text, cx, cy, x0, x1, uy) {
  graphics.push({
    type: 'text', x: cx, y: cy, silent: true,
    style: { text: text, fontFamily: SERIF, fontSize: 80, fontWeight: 'bold', fill: '#000', align: 'center', verticalAlign: 'middle' }
  });
  graphics.push({ type: 'rect', silent: true, shape: { x: x0, y: uy, width: x1 - x0, height: 6 }, style: { fill: '#000' } });
}
heading('Synthetic Gaussian Data with and without Parallelization', 1790, 79, 812, 2769, 113);
heading('Real Gaussian Data', 424, 1063, 89, 760, 1097);
heading('Real Multinomial Data', 2116, 1063, 1725, 2508, 1097);

graphics.push({
  type: 'text', x: 105, y: 513, rotation: Math.PI / 2, silent: true,
  style: {
    text: '{t|Log Likelihood (×10}{s|6}{t|)}', align: 'center', verticalAlign: 'middle',
    rich: {
      t: { fontFamily: SERIF, fontSize: 52, lineHeight: 52, fill: '#000' },
      s: { fontFamily: SERIF, fontSize: 35, lineHeight: 28, verticalAlign: 'top', fill: '#000' }
    }
  }
});

var legendRich = {
  'SubC': '{c|S}{s|UB}{c|C}',
  'SubC+SupC': '{c|S}{s|UB}{c|C+S}{s|UP}{c|C}',
  'SubC+SupC Approx': '{c|S}{s|UB}{c|C+S}{s|UP}{c|C A}{s|PPROX}',
  'FSD': '{c|FSD}',
  'Gibbs': '{c|G}{s|IBBS}',
  'Gibbs+SupC': '{c|G}{s|IBBS}{c|+S}{s|UP}{c|C}',
  'Gibbs+SAMS': '{c|G}{s|IBBS}{c|+SAMS}'
};

var chart = echarts.init(document.getElementById('main'));
chart.setOption({
  animation: false,
  backgroundColor: '#fff',
  grid: grids,
  xAxis: xAxes,
  yAxis: yAxes,
  series: series,
  legend: {
    data: names.map(function (n, i) {
      return { name: n, lineStyle: { width: legendWidths[i], color: colors[i] }, itemStyle: { color: colors[i] } };
    }),
    orient: 'vertical', left: 2769, top: 264, itemWidth: 130, itemHeight: 34, itemGap: 15,
    selectedMode: false, padding: 0,
    formatter: function (name) { return legendRich[name]; },
    textStyle: {
      color: '#000', fontFamily: SERIF, fontSize: 59, padding: [0, 0, 0, 19],
      rich: {
        c: { fontFamily: SERIF, fontSize: 59, lineHeight: 59, verticalAlign: 'bottom', color: '#000' },
        s: { fontFamily: SERIF, fontSize: 46, lineHeight: 50, verticalAlign: 'bottom', color: '#000' }
      }
    }
  },
  graphic: { elements: graphics }
});
</script>
</body>
</html>
